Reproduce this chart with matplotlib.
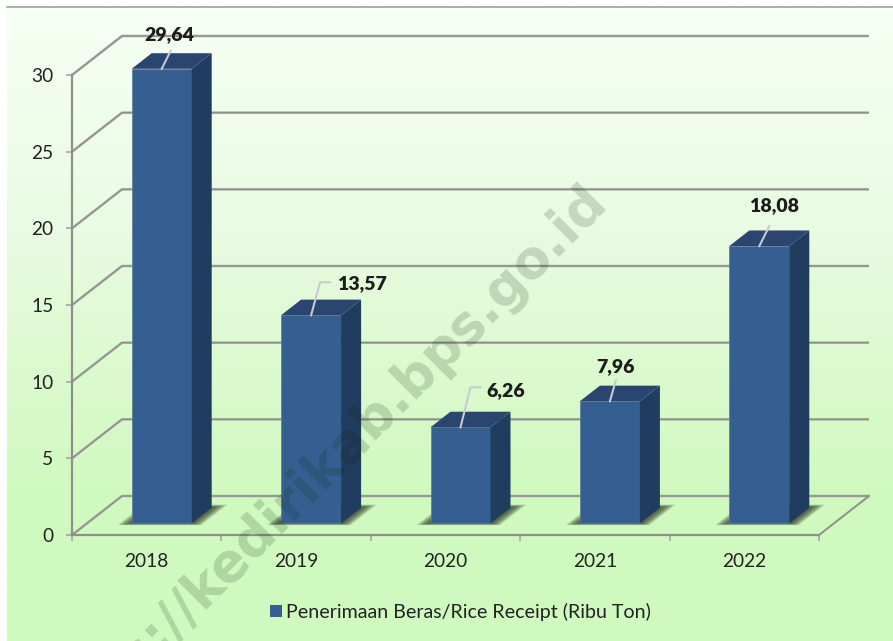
import numpy as np
import matplotlib
matplotlib.use('Agg')
import matplotlib.pyplot as plt
import matplotlib.patheffects as pe
from matplotlib.colors import LinearSegmentedColormap
from matplotlib.patches import Patch

years = ['2018', '2019', '2020', '2021', '2022']
values = [29.64, 13.57, 6.26, 7.96, 18.08]
y_ticks = [0, 5, 10, 15, 20, 25, 30]
legend_label = 'Penerimaan Beras/Rice Receipt (Ribu Ton)'
watermark = 'https://kedirikab.bps.go.id'

# leader line and label offsets from the bar top, in pixels (x right, y up)
leaders = [[(9, 18)], [(9, 33), (19, 33)], [(10, 40), (20, 40)], [(6, 21)], [(10, 20)]]
label_offsets = [(8, 34), (51, 32), (45, 37), (6, 35), (15, 40)]

W, H = 893, 641
plt.rcParams['font.family'] = ['Lato', 'DejaVu Sans']

fig = plt.figure(figsize=(W / 100, H / 100), dpi=100, facecolor='white')

# gradient panel behind the chart
bg = fig.add_axes([7 / W, 0, (W - 7) / W, 634 / H], zorder=0)
grad = np.linspace(0, 1, 256).reshape(-1, 1)
cmap = LinearSegmentedColormap.from_list('panel', [(0, '#f6fff4'), (0.35, '#e9fbe2'), (0.75, '#d1f9c0'), (1, '#d0f9bf')])
bg.imshow(grad, aspect='auto', cmap=cmap, extent=[0, 1, 0, 1], origin='upper')
bg.set_xticks([])
bg.set_yticks([])
for s in ['left', 'right', 'bottom']:
    bg.spines[s].set_visible(False)
bg.spines['top'].set_color('#a0a0a0')
bg.spines['top'].set_linewidth(1.2)

# front plane of the fake 3D box
ax = fig.add_axes([72 / W, (H - 535) / H, 747 / W, 460 / H], zorder=1)
ax.patch.set_visible(False)
ax.set_xlim(-0.5, 4.5)
ax.set_ylim(0, 30)

px_x = 5 / 747
px_y = 30 / 460
depth_x = 50 * px_x
depth_y = 39 * px_y

GRID = '#8f908c'
halo = [pe.withStroke(linewidth=2.0, foreground='#c0c6b9')]


def proj(x, y, d):
    return x + d * depth_x, y + d * depth_y


# walls
for t in y_ticks:
    x0, y0 = proj(-0.5, t, 0)
    x1, y1 = proj(-0.5, t, 1)
    x2, y2 = proj(4.5, t, 1)
    ax.plot([x0, x1, x2], [y0, y1, y2], color=GRID, lw=1.2, clip_on=False, zorder=2,
            solid_capstyle='butt', path_effects=halo)
# right edge of the floor
x0, y0 = proj(4.5, 0, 0)
x1, y1 = proj(4.5, 0, 1)
ax.plot([x0, x1], [y0, y1], color=GRID, lw=1.4, clip_on=False, zorder=2)

bar_w = 60 * px_x
d_front = 0.30
d_back = 0.70

# soft shadows on the floor
for i, v in enumerate(values):
    for k in np.linspace(1, 0.05, 16) ** 1.2:
        gx = 12 * px_x * k
        gd = 0.08 * k
        xl = i - bar_w / 2 - gx
        xr = i + bar_w / 2 + gx
        pts = [proj(xl, 0, d_front - gd * 0.6), proj(xr, 0, d_front - gd * 0.6), proj(xr, 0, d_back + gd), proj(xl, 0, d_back + gd)]
        ax.fill([p[0] for p in pts], [p[1] for p in pts], color='#3f4f3a', alpha=0.12, lw=0, clip_on=False, zorder=3)

# bars: front face through ax.bar, side and top as polygons
front_x, base_y = proj(np.arange(len(values)), 0, d_front)
ax.bar(front_x, values, width=bar_w, bottom=base_y, color='#355f91', edgecolor='#5d7a96', linewidth=0.5, zorder=5, clip_on=False)
for i, v in enumerate(values):
    xl = front_x[i] - bar_w / 2
    xr = front_x[i] + bar_w / 2
    top = base_y + v
    dx = (d_back - d_front) * depth_x
    dy = (d_back - d_front) * depth_y
    ax.fill([xr, xr + dx, xr + dx, xr], [base_y, base_y + dy, top + dy, top], color='#203c5e', lw=0, zorder=5, clip_on=False)
    ax.fill([xl, xr, xr + dx, xl + dx], [top, top, top + dy, top + dy], color='#2a4570', lw=0, zorder=5, clip_on=False)

    # leader line and value label
    lx = [front_x[i]] + [front_x[i] + p[0] * px_x for p in leaders[i]]
    ly = [top] + [top + p[1] * px_y for p in leaders[i]]
    ax.plot(lx, ly, color='#c9c9d0', lw=1.5, zorder=6, clip_on=False)
    ax.annotate(f'{v:.2f}'.replace('.', ','), xy=(front_x[i], top), xytext=label_offsets[i],
                textcoords='offset pixels', ha='center', va='center', fontsize=14, fontweight='heavy',
                color='#1c1c1c', zorder=7, annotation_clip=False)

# axes and ticks
for s in ['top', 'right']:
    ax.spines[s].set_visible(False)
for s in ['left', 'bottom']:
    ax.spines[s].set_color(GRID)
    ax.spines[s].set_linewidth(1.6)
ax.set_yticks(y_ticks)
ax.set_xticks(range(len(years)))
ax.set_xticklabels(years)
ax.set_xticks(np.arange(-0.5, 5), minor=True)
ax.tick_params(axis='y', direction='out', length=4.5, width=1.2, color='#a6a6a6', labelsize=13.8, labelcolor='#222222', pad=9)
ax.tick_params(axis='x', which='major', length=0, labelsize=13.8, labelcolor='#222222', pad=13)
ax.tick_params(axis='x', which='minor', direction='out', length=4.5, width=1.2, color='#a6a6a6')

handle = Patch(facecolor='#355f91', edgecolor='none')
fig.legend([handle], [legend_label], loc='center', bbox_to_anchor=(460.5 / W, (H - 612) / H), frameon=False,
           fontsize=14.1, handlelength=0.61, handleheight=0.61, handletextpad=0.25, labelcolor='#222222')

# watermark over everything
fig.text(609 / W, (H - 203) / H, watermark, rotation=45, rotation_mode='anchor', ha='right', va='baseline',
         fontsize=38, fontweight='bold', family=['DejaVu Sans'], color='#0a2a0a', alpha=0.17, zorder=10)

fig.savefig('out.png', dpi=100)
